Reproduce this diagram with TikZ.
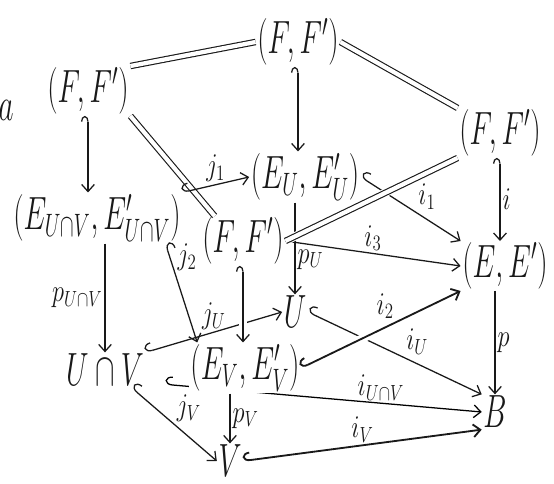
\documentclass[tikz,border=0pt]{standalone}
\usepackage{amsmath, amssymb}
\usetikzlibrary{positioning, arrows.meta}
\definecolor{tinta}{RGB}{25, 25, 25}
\newcommand{\alto}[1]{\scalebox{1}[1.6]{#1}}
\newcommand{\medio}[1]{\scalebox{1}[1.3]{#1}}
\pgfdeclarelayer{fondo}
\pgfsetlayers{fondo,main}

\begin{document}
\begin{tikzpicture}[x=0.025cm, y=-0.025cm, color=tinta,
        obj/.style={font=\fontsize{21}{25}\selectfont, inner sep=1pt, fill=white},
        etq/.style={font=\fontsize{17}{20}\selectfont, inner sep=1.5pt},
        flecha/.style={-{Straight Barb[length=5pt, width=9pt]}, line width=0.9pt},
        incl/.style={{Hooks[right, length=5pt, width=12pt]}-{Straight Barb[length=5pt, width=9pt]}, line width=0.9pt},
        inclv/.style={{Hooks[left, length=4pt, width=10pt]}-{Straight Barb[length=5pt, width=9pt]}, line width=0.9pt},
        grueso/.style={line width=1.3pt},
        igual/.style={double=white, double distance=3pt, line width=0.8pt},
        corte/.style={preaction={draw=white, line width=6pt}}]
        \useasboundingbox (0,0) rectangle (554,484);
        \node[obj] (letra) at (6,110) {\alto{$a$}};
        \node[obj] (ffl) at (88,91)   {\alto{$(F,F')$}};
        \node[obj] (fft) at (298,42)  {\alto{$(F,F')$}};
        \node[obj] (ffr) at (500,133) {\alto{$(F,F')$}};
        \node[obj] (euv) at (97,218)  {\alto{$(E_{U\cap V},E'_{U\cap V})$}};
        \node[obj] (eu)  at (305,177) {\alto{$(E_U,E'_U)$}};
        \node[obj] (ffm) at (243,241) {\alto{$(F,F')$}};
        \node[obj] (ee)  at (505,266) {\alto{$(E,E')$}};
        \node[obj] (uv)  at (105,370) {\alto{$U\cap V$}};
        \node[obj] (ev)  at (245,368) {\alto{$(E_V,E'_V)$}};
        \node[obj] (u)   at (295,312) {\alto{$U$}};
        \node[obj] (b)   at (495,412) {\alto{$B$}};
        \node[obj] (v)   at (230,461) {\alto{$V$}};
        \draw[igual] (ffl.north east) -- (fft.west);
        \draw[igual] (fft.east) -- (ffr.north west);
        \draw[igual] (ffl.south east) -- ([xshift=10pt]ffm.north west);
        \draw[inclv] (ffl.south) -- (ffl.south |- euv.north);
        \draw[inclv] (fft.south) -- (fft.south |- eu.north);
        \draw[inclv] (ffr.south) -- (ffr.south |- ee.north) node[etq, midway, right] {\medio{$i$}};
        \draw[incl] (euv.north east) -- (eu.west) node[etq, midway, above] {\medio{$j_1$}};
        \draw[incl] ([xshift=-12pt]euv.south east) -- ([xshift=6pt]ev.north west) node[etq, pos=0.3, above right] {\medio{$j_2$}};
        \draw[incl] (eu.east) -- (ee.north west) node[etq, pos=0.55, above right] {\medio{$i_1$}};
        \draw[flecha] (u.north |- eu.south) -- (u.north) node[etq, pos=0.62, right] {\medio{$p_U$}};
        \draw[flecha] (ffm.east) -- (ee.west) node[etq, midway, above] {\medio{$i_3$}};
        \draw[incl] (uv.north east) -- (u.west) node[etq, pos=0.5, above] {\medio{$j_U$}};
        \draw[inclv, corte] (ffm.south) -- (ffm.south |- ev.north);
        \draw[incl] (u.east) -- (b.north west) node[etq, pos=0.55, above right] {\medio{$i_U$}};
        \draw[incl, grueso, corte] (ev.east) -- (ee.south west) node[etq, pos=0.6, above left] {\medio{$i_2$}};
        \begin{pgfonlayer}{fondo}
          \draw[incl, shorten <=14pt] ([yshift=-9pt]uv.east) -- (b.west) node[etq, pos=0.7, above] {\medio{$i_{U\cap V}$}};
        \end{pgfonlayer}
        \draw[flecha] (v.north |- ev.south) -- (v.north) node[etq, midway, right] {\medio{$p_V$}};
        \draw[incl] ([xshift=-10pt]uv.south east) -- (v.west) node[etq, midway, above right] {\medio{$j_V$}};
        \draw[incl, grueso] (v.east) -- (b.south west) node[etq, midway, above] {\medio{$i_V$}};
        \draw[flecha] (b.north |- ee.south) -- (b.north) node[etq, midway, right] {\medio{$p$}};
        \draw[flecha] (uv.north |- euv.south) -- (uv.north) node[etq, midway, left] {\medio{$p_{U\cap V}$}};
        \draw[igual, corte] (ffr.south west) -- (ffm.east);
\end{tikzpicture}
\end{document}
